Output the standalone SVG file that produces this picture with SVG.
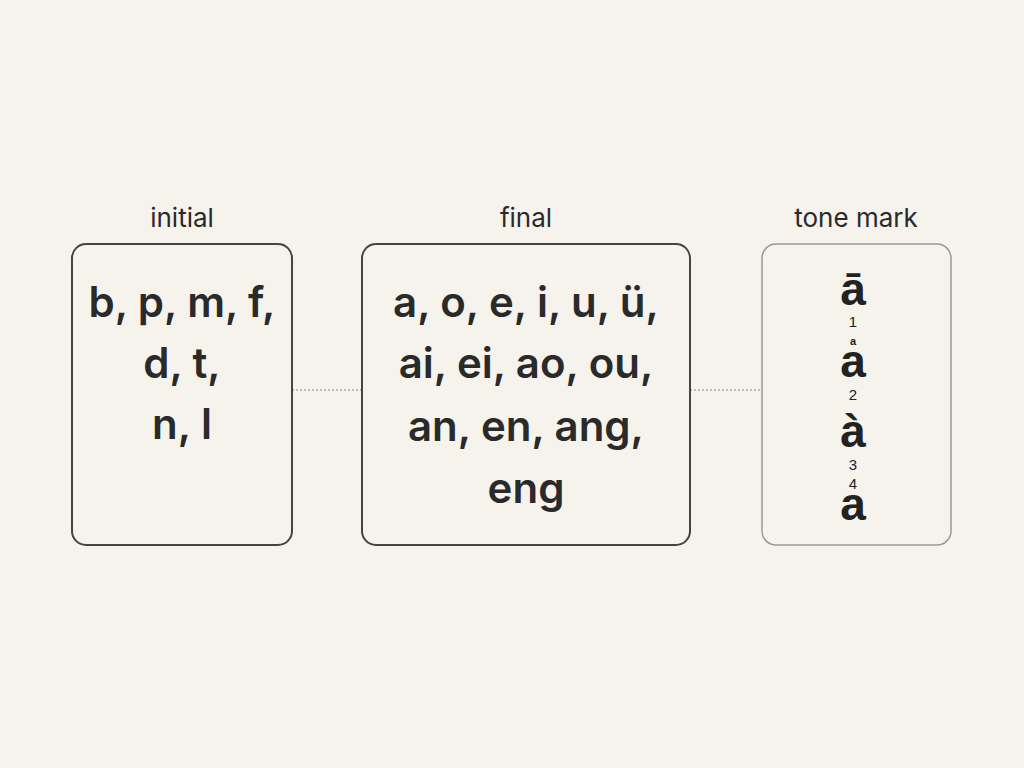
<svg xmlns="http://www.w3.org/2000/svg" width="1024" height="768" viewBox="0 0 1024 768">
<style>
.lbl{font-family:Inter,"Liberation Sans",sans-serif;font-size:26px;fill:#2a2a2a;text-anchor:middle}
.big{font-family:Inter,"Liberation Sans",sans-serif;font-size:42px;font-weight:600;fill:#2a2a2a;text-anchor:middle}
.tone{font-family:"Liberation Sans",sans-serif;fill:#222;text-anchor:middle}
.t{font-size:46px;font-weight:bold}
.s{font-size:15px;font-weight:normal}
.xs{font-size:11px;font-weight:bold}
.box{fill:none;stroke:#444;stroke-width:2}
.conn{stroke:#aaa;stroke-width:1.5;stroke-dasharray:2 2;fill:none}
</style>
<rect width="1024" height="768" fill="#f5f3ec"/>
<g id="connectors">
<line class="conn" x1="292" y1="390" x2="362" y2="390"/>
<line class="conn" x1="690" y1="390" x2="762" y2="390"/>
</g>
<g id="initial">
<text class="lbl" x="182" y="227">initial</text>
<rect class="box" x="72" y="244" width="220" height="301" rx="14"/>
<text class="big" x="182" y="317">b, p, m, f,</text>
<text class="big" x="182" y="378">d, t,</text>
<text class="big" x="182" y="439">n, l</text>
</g>
<g id="final">
<text class="lbl" x="526" y="227">final</text>
<rect class="box" x="362" y="244" width="328" height="301" rx="14"/>
<text class="big" x="526" y="317">a, o, e, i, u, ü,</text>
<text class="big" x="526" y="378">ai, ei, ao, ou,</text>
<text class="big" x="526" y="441">an, en, ang,</text>
<text class="big" x="526" y="503">eng</text>
</g>
<g id="tone-mark">
<text class="lbl" x="856" y="227">tone mark</text>
<rect x="762" y="244" width="189" height="301" rx="14" fill="none" stroke="#999" stroke-width="1.5"/>
<text class="tone"><tspan class="t" x="853" y="305">ā</tspan><tspan class="s" x="853" y="327">1</tspan><tspan class="xs" x="853" y="345">a</tspan><tspan class="t" x="853" y="377">a</tspan><tspan class="s" x="853" y="400">2</tspan><tspan class="t" x="853" y="447">à</tspan><tspan class="s" x="853" y="470">3</tspan><tspan class="s" x="853" y="489">4</tspan><tspan class="t" x="853" y="520">a</tspan></text>
</g>
</svg>
